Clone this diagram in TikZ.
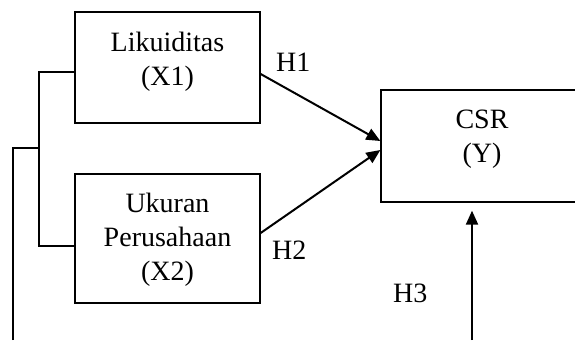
\documentclass[tikz,border=0pt]{standalone}
\usepackage{fontspec}
\setmainfont{Liberation Serif}
\usetikzlibrary{arrows.meta}
\begin{document}
\begin{tikzpicture}[x=1pt,y=1pt,
  box/.style={draw,line width=1.3pt,inner sep=0pt},
  lbl/.style={font=\fontsize{28}{34}\selectfont,align=center,inner sep=0pt},
  hlbl/.style={font=\fontsize{28}{34}\selectfont,inner sep=0pt,anchor=base west},
  conn/.style={line width=1.3pt},
  thick line/.style={line width=2pt},
  arr/.style={line width=2pt,-{Triangle[length=14pt,width=12pt]}}]
\useasboundingbox (0,0) rectangle (575,-340);
\clip (0,0) rectangle (575,-340);
% boxes
\node[box,minimum width=185pt,minimum height=111pt] (x1) at (167.5,-67.5) {};
\node[box,minimum width=185pt,minimum height=129pt] (x2) at (167.5,-238.5) {};
\node[box,minimum width=202pt,minimum height=112pt] (y) at (482,-146) {};
% texts
\node[lbl,anchor=base] (x1t) at (167.5,-85) {Likuiditas\\(X1)};
\node[lbl,anchor=base] (x2t) at (167.5,-280) {Ukuran\\Perusahaan\\(X2)};
\node[lbl,anchor=base] (yt) at (482,-162) {CSR\\(Y)};
% hypothesis labels
\node[hlbl] (h1) at (276,-71) {H1};
\node[hlbl] (h2) at (272,-259) {H2};
\node[hlbl] (h3) at (393,-302) {H3};
% bracket
\coordinate (bx) at (39,-148);
\coordinate (in) at (13,-340);
\draw[conn] ([yshift=-4.5pt]x1.west) -| (bx) |- ([yshift=-7.5pt]x2.west);
\draw[thick line] (in) |- (bx);
% arrows
\draw[arr] ([yshift=-6.5pt]x1.east) -- ([yshift=5pt]y.west);
\draw[arr] ([yshift=5.5pt]x2.east) -- ([yshift=-4pt]y.west);
\coordinate (h3s) at (472,-340);
\draw[arr,shorten >=8pt] (h3s) -- (h3s |- y.south);
\end{tikzpicture}
\end{document}
